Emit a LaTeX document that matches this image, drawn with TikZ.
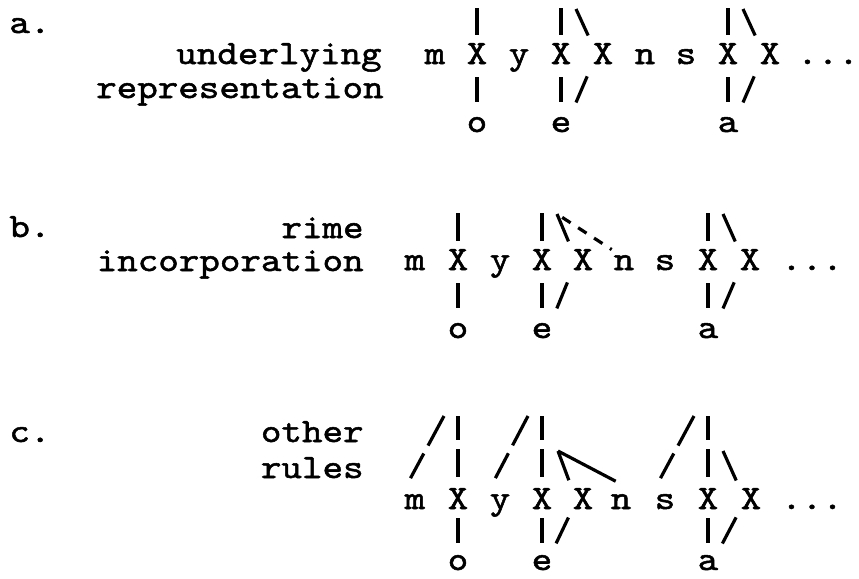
\documentclass[tikz,border=0pt]{standalone}
\usepackage{fontspec}
\usepackage{tikz}
\newfontfamily\typefont[FakeBold=1.5,FakeStretch=1.15]{lmmono10-regular.otf}
\newcommand{\typed}{\typefont\fontsize{17}{20}\selectfont}

\begin{document}
\begin{tikzpicture}[
    x=0.5pt, y=-0.5pt,
    seg/.style={inner sep=0pt, anchor=base, text height=9.5pt,
                text depth=0pt, font=\typed},
    lbl/.style={inner sep=0pt, font=\typed},
    assoc/.style={line width=1.6pt, shorten <=6.5pt, shorten >=5.5pt},
    link/.style={line width=1.6pt, shorten <=5pt},
    tier/.style={line width=1.6pt, shorten <=6.5pt,
                 dash pattern=on 14pt off 4.5pt on 20pt off 1pt},
    spread/.style={line width=1.6pt, shorten <=1pt, shorten >=3pt,
                   dash pattern=on 5pt off 4.5pt, dash phase=4pt}
]
  \useasboundingbox (0,0) rectangle (859,579);

  % a. underlying representation
  \node[lbl, anchor=base west] (a-tag) at (9,33) {a.};
  \node[lbl, anchor=base east] (a-l1) at (382,64) {underlying};
  \node[lbl, anchor=base east] (a-l2) at (384,98) {representation};
  \foreach \n/\txt/\x in {m/m/435, x1/X/477, y/y/519, x2/X/561, x3/X/603,
                          n/n/645, s/s/686, x4/X/728, x5/X/770}
    \node[seg] (a-\n) at (\x,64) {\txt};
  \node[seg] (a-dots) at (828,64) {...};
  \foreach \n/\txt/\x in {o/o/477, e/e/561, a/a/728}
    \node[seg] (a-\n) at (\x,132) {\txt};
  \coordinate (a-s1) at (477,8);
  \coordinate (a-s2) at (561,8);
  \coordinate (a-t2) at (576,9);
  \coordinate (a-s4) at (728,8);
  \coordinate (a-t4) at (743,9);
  \draw[link] (a-x1) -- (a-s1);
  \draw[link] (a-x2) -- (a-s2);
  \draw[link] (a-x3.north west) -- (a-t2);
  \draw[link] (a-x4) -- (a-s4);
  \draw[link] (a-x5.north west) -- (a-t4);
  \draw[assoc] (a-x1) -- (a-o);
  \draw[assoc] (a-x2) -- (a-e);
  \draw[assoc] (a-x3.south west) -- (a-e.north east);
  \draw[assoc] (a-x4) -- (a-a);
  \draw[assoc] (a-x5.south west) -- (a-a.north east);

  % b. rime incorporation
  \node[lbl, anchor=base west] (b-tag) at (9,237) {b.};
  \node[lbl, anchor=base east] (b-l1) at (364,238) {rime};
  \node[lbl, anchor=base east] (b-l2) at (364,271) {incorporation};
  \foreach \n/\txt/\x in {m/m/415, x1/X/458, y/y/500, x2/X/542, x3/X/583,
                          n/n/624, s/s/665, x4/X/708, x5/X/750}
    \node[seg] (b-\n) at (\x,270) {\txt};
  \node[seg] (b-dots) at (812,270) {...};
  \foreach \n/\txt/\x in {o/o/458, e/e/542, a/a/708}
    \node[seg] (b-\n) at (\x,338) {\txt};
  \coordinate (b-s1) at (458,213);
  \coordinate (b-s2) at (542,213);
  \coordinate (b-t2) at (557,214);
  \coordinate (b-s4) at (708,213);
  \coordinate (b-t4) at (723,214);
  \draw[link] (b-x1) -- (b-s1);
  \draw[link] (b-x2) -- (b-s2);
  \draw[link] (b-x3.north west) -- (b-t2);
  \draw[spread] (b-n.north west) -- (b-t2);
  \draw[link] (b-x4) -- (b-s4);
  \draw[link] (b-x5.north west) -- (b-t4);
  \draw[assoc] (b-x1) -- (b-o);
  \draw[assoc] (b-x2) -- (b-e);
  \draw[assoc] (b-x3.south west) -- (b-e.north east);
  \draw[assoc] (b-x4) -- (b-a);
  \draw[assoc] (b-x5.south west) -- (b-a.north east);

  % c. other rules
  \node[lbl, anchor=base west] (c-tag) at (9,442) {c.};
  \node[lbl, anchor=base east] (c-l1) at (364,442) {other};
  \node[lbl, anchor=base east] (c-l2) at (364,478) {rules};
  \foreach \n/\txt/\x in {m/m/415, x1/X/458, y/y/500, x2/X/542, x3/X/583,
                          n/n/621, s/s/665, x4/X/708, x5/X/751}
    \node[seg] (c-\n) at (\x,509) {\txt};
  \node[seg] (c-dots) at (812,509) {...};
  \foreach \n/\txt/\x in {o/o/458, e/e/542, a/a/708}
    \node[seg] (c-\n) at (\x,570) {\txt};
  \coordinate (c-s1) at (458,416);
  \coordinate (c-l1) at (444,416);
  \coordinate (c-s2) at (542,416);
  \coordinate (c-l2) at (528,416);
  \coordinate (c-r2) at (558,451);
  \coordinate (c-s4) at (708,416);
  \coordinate (c-l4) at (694,416);
  \coordinate (c-r4) at (723,451);
  \draw[tier] (c-x1) -- (c-s1);
  \draw[tier] (c-m.north west) -- (c-l1);
  \draw[tier] (c-x2) -- (c-s2);
  \draw[tier] (c-y.north west) -- (c-l2);
  \draw[link] (c-x3.north west) -- (c-r2);
  \draw[link, shorten <=9pt] (c-n.north east) -- (c-r2);
  \draw[tier] (c-x4) -- (c-s4);
  \draw[tier] (c-s.north west) -- (c-l4);
  \draw[link] (c-x5.north west) -- (c-r4);
  \draw[assoc, shorten <=4.5pt, shorten >=4pt] (c-x1) -- (c-o);
  \draw[assoc, shorten <=4.5pt, shorten >=4pt] (c-x2) -- (c-e);
  \draw[assoc, shorten <=4.5pt, shorten >=4pt] (c-x3.south west) -- (c-e.north east);
  \draw[assoc, shorten <=4.5pt, shorten >=4pt] (c-x4) -- (c-a);
  \draw[assoc, shorten <=4.5pt, shorten >=4pt] (c-x5.south west) -- (c-a.north east);
\end{tikzpicture}
\end{document}
